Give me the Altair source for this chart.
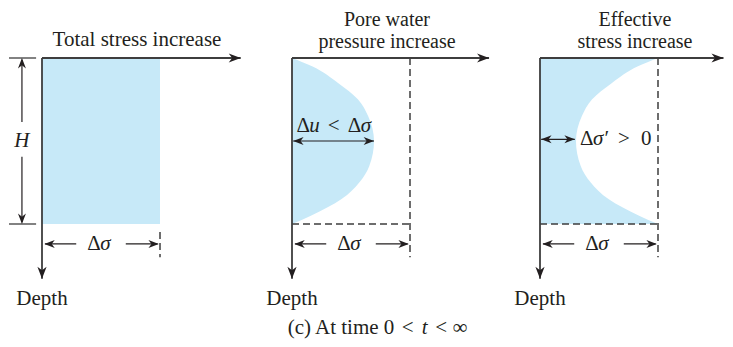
import altair as alt
import pandas as pd

# ---------------- data (stress in units of Δσ, depth in units of H) ----------------
PANEL_TITLES = [
    ["Total stress increase"],
    ["Pore water", "pressure increase"],
    ["Effective", "stress increase"],
]
DEPTH_RATIO = [0.0, 0.05, 0.15, 0.25, 0.35, 0.50, 0.65, 0.75, 0.85, 0.95, 1.0]      # z / H
PORE_RATIO = [0.0, 0.17, 0.39, 0.56, 0.645, 0.695, 0.655, 0.57, 0.42, 0.16, 0.0]   # Δu / Δσ
TOTAL_RATIO = 1.0      # Δσ / Δσ over the whole layer
LAYER_DEPTH = 1.0      # H / H
DEPTH_LABEL = "Depth"
CAPTION = [("(c) At time 0", False), ("<", False), ("t", True), ("<", False), ("∞", False)]

# ---------------- layout & style ----------------
FILL = "#C7E9F8"
INK = "#231F20"
AXIS = "#3E3E3E"
FONT = "Liberation Serif"
FS = 21
PX_S = 118.0
PX_D = 166.0
S0 = -34 / PX_S
D0 = -50 / PX_D
HEIGHT = 331
WIDTHS = [250, 248, 219]
ARROW = "M0,0 L-1.2,-0.46 L-0.85,0 L-1.2,0.46 Z"

YS = alt.Scale(domain=[D0, D0 + HEIGHT / PX_D], nice=False, zero=False, reverse=True)


def xscale(w):
    return alt.Scale(domain=[S0, S0 + w / PX_S], nice=False, zero=False)


def enc_xy(xs):
    return dict(x=alt.X("s:Q", scale=xs, axis=None), y=alt.Y("d:Q", scale=YS, axis=None))


def rules(rows, xs, color, width, dash=None):
    df = pd.DataFrame(rows, columns=["s", "d", "s2", "d2"])
    kw = dict(color=color, strokeWidth=width)
    if dash:
        kw["strokeDash"] = dash
    return alt.Chart(df).mark_rule(**kw).encode(x2="s2:Q", y2="d2:Q", **enc_xy(xs))


def heads(rows, xs, size):
    df = pd.DataFrame(rows, columns=["s", "d", "angle"])
    return alt.Chart(df).mark_point(shape=ARROW, filled=True, size=size, color=INK,
                                    opacity=1, strokeWidth=0).encode(
        angle=alt.Angle("angle:Q", scale=None), **enc_xy(xs))


def texts(rows, xs, italic=False, align="left", size=FS):
    df = pd.DataFrame(rows, columns=["s", "d", "label"])
    return alt.Chart(df).mark_text(font=FONT, fontSize=size, align=align, baseline="alphabetic",
                                   fontStyle="italic" if italic else "normal", color=INK).encode(
        text="label:N", **enc_xy(xs))


def common(xs, axis_tip, title_lines):
    if len(title_lines) == 1:
        title = texts([(0.805, -0.072, title_lines[0])], xs, align="center")
    else:
        title = texts([(0.805, d, t) for d, t in zip([-0.193, -0.061], title_lines)], xs,
                      align="center", size=20)
    return [
        rules([(0, 0, axis_tip, 0), (0, 0, 0, 1.33)], xs, AXIS, 1.8),
        rules([(0.025, 1.12, 0.29, 1.12), (0.71, 1.12, 0.98, 1.12)], xs, INK, 1.2),
        heads([(axis_tip, 0, 0), (0, 1.33, 90)], xs, 400),
        heads([(0.02, 1.12, 180), (0.99, 1.12, 0)], xs, 300),
        title,
        texts([(0, 1.488, DEPTH_LABEL)], xs, align="center"),
        texts([(0.383, 1.155, "Δ")], xs),
        texts([(0.494, 1.155, "σ")], xs, italic=True),
    ]


# ---- panel 1: total stress ----
xs1 = xscale(WIDTHS[0])
rect = alt.Chart(pd.DataFrame({"s": [0.0], "s2": [TOTAL_RATIO], "d": [0.0], "d2": [LAYER_DEPTH]})) \
    .mark_rect(color=FILL).encode(x2="s2:Q", y2="d2:Q", **enc_xy(xs1))
p1 = alt.layer(
    rect,
    rules([(1, 1.048, 1, 1.2)], xs1, AXIS, 1.5, dash=[7, 4]),
    rules([(-0.28, 0, -0.05, 0), (-0.28, LAYER_DEPTH, -0.05, LAYER_DEPTH)], xs1, AXIS, 1.3),
    rules([(-0.17, 0.01, -0.17, 0.386), (-0.17, 0.595, -0.17, 0.99)], xs1, INK, 1.2),
    heads([(-0.17, 0.0, 270), (-0.17, LAYER_DEPTH, 90)], xs1, 300),
    texts([(-0.17, 0.534, "H")], xs1, italic=True, align="center"),
    *common(xs1, 1.684, PANEL_TITLES[0]),
).properties(width=WIDTHS[0], height=HEIGHT)

# ---- panel 2: pore water pressure ----
xs2 = xscale(WIDTHS[1])
pore = pd.DataFrame({"d": DEPTH_RATIO, "s": PORE_RATIO, "base": [0.0] * len(DEPTH_RATIO)})
area2 = alt.Chart(pore).mark_area(color=FILL, orient="horizontal", interpolate="monotone").encode(
    x2="base:Q", **enc_xy(xs2))
umax = max(PORE_RATIO)
dmax = DEPTH_RATIO[PORE_RATIO.index(umax)]
cap_s = [-0.037, 0.93, 1.10, 1.215, 1.36]
p2 = alt.layer(
    area2,
    rules([(1, 0, 1, 1.2), (0, LAYER_DEPTH, TOTAL_RATIO, LAYER_DEPTH)], xs2, AXIS, 1.5, dash=[7, 4]),
    rules([(0.01, dmax, umax, dmax)], xs2, INK, 1.2),
    heads([(0.01, dmax, 180), (umax, dmax, 0)], xs2, 300),
    texts([(0.038, 0.444, "Δ"), (0.304, 0.444, "<"), (0.472, 0.444, "Δ")], xs2),
    texts([(0.147, 0.444, "u"), (0.582, 0.444, "σ")], xs2, italic=True),
    texts([(s, 1.665, t) for s, (t, it) in zip(cap_s, CAPTION) if not it], xs2),
    texts([(s, 1.665, t) for s, (t, it) in zip(cap_s, CAPTION) if it], xs2, italic=True),
    *common(xs2, 1.67, PANEL_TITLES[1]),
).properties(width=WIDTHS[1], height=HEIGHT)

# ---- panel 3: effective stress ----
xs3 = xscale(WIDTHS[2])
eff = pd.DataFrame({"d": DEPTH_RATIO, "s": [TOTAL_RATIO - u for u in PORE_RATIO],
                    "base": [0.0] * len(DEPTH_RATIO)})
area3 = alt.Chart(eff).mark_area(color=FILL, orient="horizontal", interpolate="monotone").encode(
    x2="base:Q", **enc_xy(xs3))
emin = TOTAL_RATIO - umax
p3 = alt.layer(
    area3,
    rules([(1, 0, 1, 1.2), (0, LAYER_DEPTH, TOTAL_RATIO, LAYER_DEPTH)], xs3, AXIS, 1.5, dash=[7, 4]),
    rules([(0.01, 0.49, emin - 0.01, 0.49)], xs3, INK, 1.2),
    heads([(0.01, 0.49, 180), (emin - 0.01, 0.49, 0)], xs3, 300),
    texts([(0.339, 0.524, "Δ"), (0.661, 0.524, ">"), (0.856, 0.524, "0")], xs3),
    texts([(0.449, 0.524, "σ′")], xs3, italic=True),
    *common(xs3, 1.555, PANEL_TITLES[2]),
).properties(width=WIDTHS[2], height=HEIGHT)

chart = alt.hconcat(p1, p2, p3, spacing=0, bounds="flush").properties(
    padding=0, background="white"
).configure_view(stroke=None)

chart.save("out.html", embed_options={"renderer": "svg", "actions": False})
